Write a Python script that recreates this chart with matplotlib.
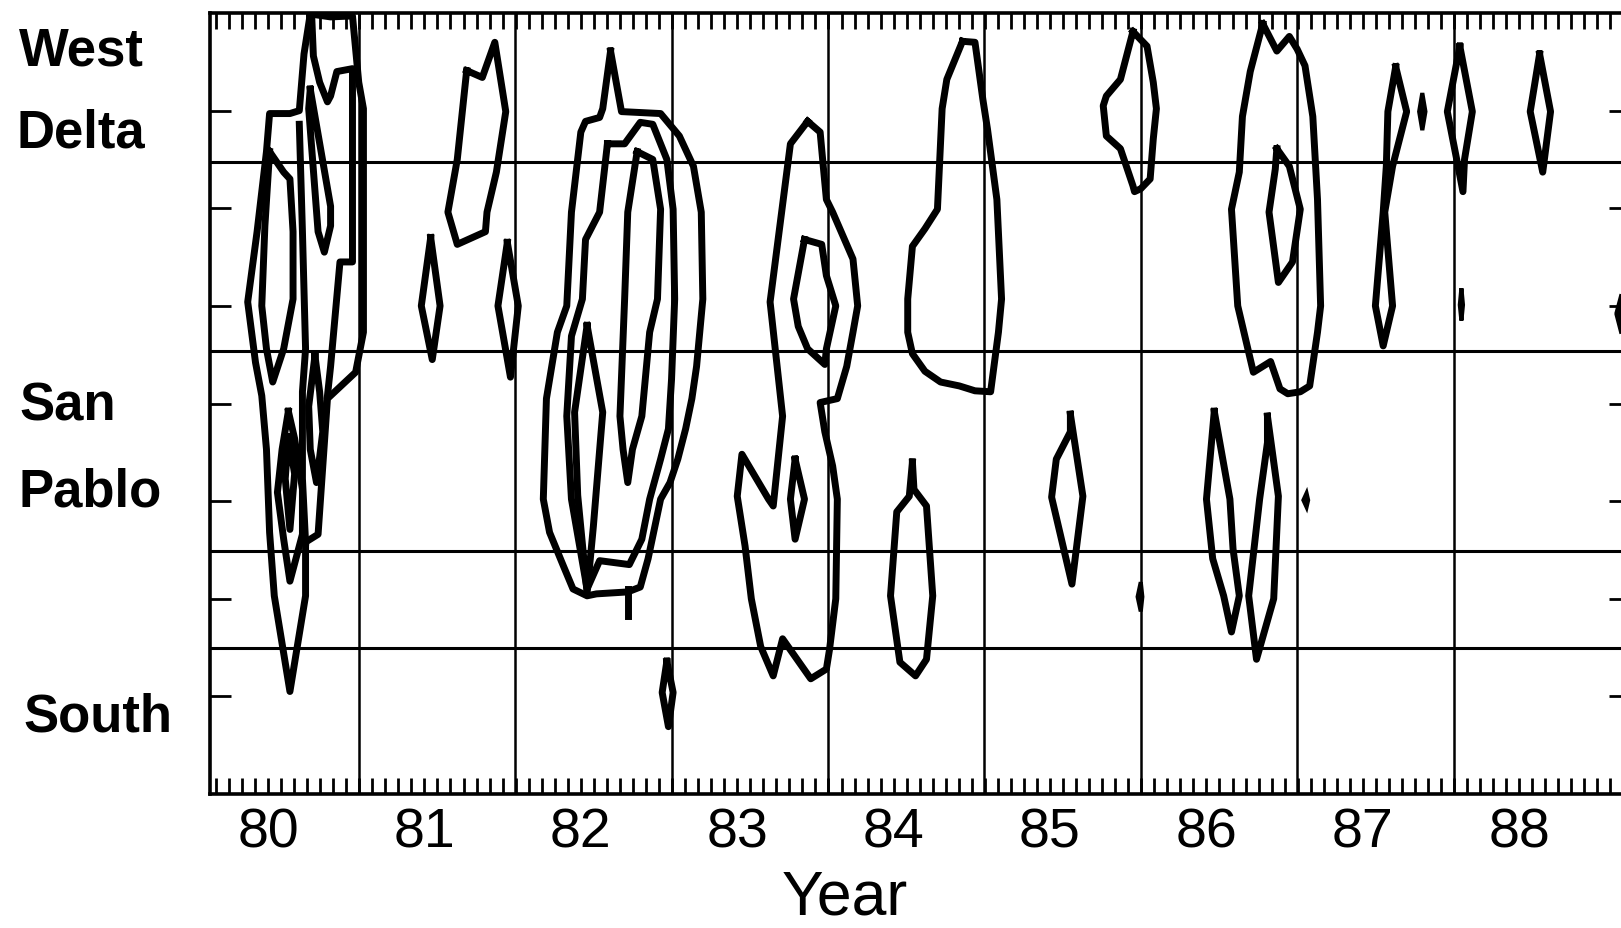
import matplotlib.pyplot as plt
import numpy as np

plt.rcParams['font.family'] = ['Liberation Sans', 'DejaVu Sans']

# axis layout: x in decimal years, y in station position (0 = top)
years = [80, 81, 82, 83, 84, 85, 86, 87, 88]
year_breaks = [80.58, 81.58, 82.58, 83.58, 84.58, 85.58, 86.58, 87.58]
station_ticks = [1, 2, 3, 4, 5, 6, 7]
region_breaks = [1.53, 3.46, 5.51, 6.50]
region_names = ['West', 'Delta', 'San', 'Pablo', 'South']

# contour outlines (year, station)
c80_outer = [(80.27, 0.01), (80.23, 0.42), (80.20, 1.00), (80.14, 1.03), (80.01, 1.03), (79.99, 1.42),
             (79.93, 2.24), (79.87, 2.96), (79.92, 3.58), (79.96, 3.92), (79.99, 4.47), (80.01, 5.32),
             (80.04, 5.97), (80.14, 6.95), (80.24, 5.97), (80.24, 5.42), (80.32, 5.34), (80.38, 3.95),
             (80.56, 3.68), (80.61, 3.27), (80.61, 0.98), (80.58, 0.71), (80.54, 0.03), (80.40, 0.04),
             (80.27, 0.01)]
c80_stem = [(80.20, 1.14), (80.22, 2.24), (80.24, 3.44), (80.22, 3.88), (80.22, 4.77), (80.24, 5.42)]
c80_narrow = [(80.30, 3.51), (80.33, 3.88), (80.35, 4.29), (80.31, 4.81), (80.27, 4.47), (80.26, 4.03),
              (80.30, 3.51)]
c80_left = [(80.01, 1.42), (80.10, 1.63), (80.14, 1.70), (80.16, 2.24), (80.16, 2.93), (80.10, 3.44),
            (80.03, 3.78), (79.99, 3.44), (79.96, 3.00), (79.98, 2.18), (80.01, 1.42)]
c80_vee = [(80.28, 0.06), (80.29, 0.44), (80.33, 0.71), (80.38, 0.91), (80.40, 0.85), (80.44, 0.60),
           (80.54, 0.57), (80.54, 1.57), (80.54, 2.55), (80.46, 2.55), (80.40, 3.62), (80.38, 3.92)]
c80_inner = [(80.27, 0.78), (80.40, 1.98), (80.40, 2.18), (80.36, 2.45), (80.32, 2.24), (80.26, 0.98),
             (80.27, 0.78)]
c80_low = [(80.13, 4.08), (80.17, 4.36), (80.22, 4.88), (80.22, 5.34), (80.14, 5.82), (80.10, 5.39),
           (80.06, 4.91), (80.09, 4.47), (80.13, 4.08)]
c80_core = [(80.13, 4.34), (80.17, 4.72), (80.14, 5.29), (80.11, 4.77), (80.13, 4.34)]

c81_top = [(81.27, 0.59), (81.37, 0.66), (81.45, 0.30), (81.52, 1.01), (81.46, 1.63), (81.40, 2.04),
           (81.39, 2.24), (81.21, 2.37), (81.15, 2.04), (81.21, 1.50), (81.27, 0.59)]
c81_a = [(81.04, 2.30), (81.10, 3.00), (81.05, 3.55), (80.98, 3.00), (81.04, 2.30)]
c81_b = [(81.53, 2.35), (81.60, 3.00), (81.55, 3.73), (81.47, 3.00), (81.53, 2.35)]

c82_outer = [(82.19, 0.39), (82.26, 1.01), (82.51, 1.03), (82.63, 1.26), (82.72, 1.57), (82.77, 2.04),
             (82.78, 2.93), (82.74, 3.62), (82.71, 3.95), (82.67, 4.26), (82.62, 4.57), (82.57, 4.81),
             (82.51, 4.98), (82.43, 5.59), (82.38, 5.88), (82.30, 5.93), (82.10, 5.95), (82.04, 5.97),
             (81.95, 5.90), (81.89, 5.67), (81.80, 5.32), (81.76, 4.98), (81.78, 3.95), (81.85, 3.27),
             (81.91, 3.00), (81.94, 2.04), (82.00, 1.22), (82.03, 1.11), (82.12, 1.07), (82.14, 0.98),
             (82.19, 0.39)]
c82_mid = [(82.17, 1.34), (82.28, 1.34), (82.38, 1.12), (82.46, 1.14), (82.55, 1.50), (82.59, 2.01),
           (82.60, 2.93), (82.58, 3.75), (82.56, 4.26), (82.51, 4.57), (82.44, 4.98), (82.39, 5.39),
           (82.31, 5.65), (82.12, 5.61), (82.04, 5.90), (81.94, 4.98), (81.91, 4.13), (81.94, 3.31),
           (82.01, 2.93), (82.03, 2.32), (82.12, 2.04), (82.17, 1.34)]
c82_inner = [(82.36, 1.42), (82.46, 1.50), (82.51, 2.01), (82.49, 2.93), (82.44, 3.27), (82.39, 4.13),
             (82.33, 4.47), (82.30, 4.81), (82.27, 4.47), (82.25, 4.13), (82.28, 2.93), (82.30, 2.04),
             (82.36, 1.42)]
c82_left = [(82.04, 3.20), (82.14, 4.09), (82.08, 5.26), (82.04, 5.94), (81.98, 4.94), (81.96, 4.09),
            (82.04, 3.20)]
c82_stub = [(82.30, 5.90), (82.30, 6.18)]
c82_south = [(82.55, 6.64), (82.59, 6.96), (82.56, 7.31), (82.52, 6.96), (82.55, 6.64)]

c83_outer = [(83.45, 1.11), (83.53, 1.22), (83.55, 1.57), (83.57, 1.91), (83.61, 2.04), (83.74, 2.52),
             (83.77, 3.00), (83.74, 3.27), (83.70, 3.62), (83.64, 3.95), (83.53, 3.99), (83.56, 4.29),
             (83.61, 4.64), (83.64, 4.98), (83.63, 6.00), (83.59, 6.52), (83.57, 6.72), (83.47, 6.82),
             (83.29, 6.41), (83.23, 6.79), (83.15, 6.49), (83.09, 6.00), (83.05, 5.46), (83.00, 4.95),
             (83.03, 4.52), (83.20, 4.98), (83.23, 5.05), (83.29, 4.13), (83.21, 2.96), (83.34, 1.34),
             (83.45, 1.11)]
c83_inner = [(83.43, 2.32), (83.54, 2.37), (83.57, 2.69), (83.63, 3.00), (83.57, 3.44), (83.56, 3.60),
             (83.45, 3.44), (83.39, 3.21), (83.36, 2.93), (83.43, 2.32)]
c83_low = [(83.37, 4.57), (83.43, 4.98), (83.37, 5.39), (83.34, 4.98), (83.37, 4.57)]

c84_top = [(84.44, 0.29), (84.52, 0.30), (84.57, 0.88), (84.60, 1.19), (84.66, 1.91), (84.69, 2.93),
           (84.67, 3.27), (84.62, 3.88), (84.52, 3.87), (84.42, 3.82), (84.30, 3.78), (84.20, 3.67),
           (84.12, 3.49), (84.09, 3.27), (84.09, 2.93), (84.12, 2.39), (84.20, 2.21), (84.28, 2.01),
           (84.31, 0.98), (84.34, 0.68), (84.44, 0.29)]
c84_low = [(84.12, 4.60), (84.13, 4.88), (84.21, 5.05), (84.25, 5.97), (84.21, 6.62), (84.14, 6.79),
           (84.04, 6.65), (83.98, 5.97), (84.02, 5.11), (84.10, 4.95), (84.12, 4.60)]

c85_top = [(85.53, 0.19), (85.62, 0.34), (85.66, 0.71), (85.68, 0.98), (85.66, 1.29), (85.64, 1.70),
           (85.58, 1.80), (85.54, 1.83), (85.53, 1.77), (85.45, 1.39), (85.36, 1.26), (85.34, 0.95),
           (85.36, 0.85), (85.45, 0.68), (85.53, 0.19)]
c85_mid = [(85.13, 4.11), (85.21, 4.95), (85.14, 5.85), (85.01, 4.96), (85.04, 4.57), (85.13, 4.29),
           (85.13, 4.11)]

c86_top = [(86.36, 0.11), (86.45, 0.39), (86.53, 0.24), (86.58, 0.37), (86.63, 0.54), (86.68, 1.06),
           (86.71, 1.91), (86.73, 3.00), (86.71, 3.27), (86.66, 3.82), (86.60, 3.88), (86.52, 3.90),
           (86.47, 3.85), (86.41, 3.57), (86.30, 3.68), (86.20, 3.00), (86.16, 2.01), (86.21, 1.63),
           (86.23, 1.06), (86.28, 0.60), (86.36, 0.11)]
c86_inner = [(86.45, 1.39), (86.53, 1.57), (86.60, 2.01), (86.55, 2.55), (86.46, 2.76), (86.40, 2.04),
             (86.44, 1.60), (86.45, 1.39)]
c86_a = [(86.05, 4.08), (86.15, 4.98), (86.17, 5.49), (86.21, 5.97), (86.16, 6.34), (86.11, 5.97),
         (86.04, 5.59), (86.00, 4.98), (86.05, 4.08)]
c86_b = [(86.39, 4.13), (86.46, 4.95), (86.43, 6.00), (86.32, 6.62), (86.27, 5.97), (86.34, 4.98),
         (86.39, 4.40), (86.39, 4.13)]

c87_top = [(87.21, 0.55), (87.28, 1.01), (87.19, 1.57), (87.14, 2.04), (87.19, 3.00), (87.13, 3.41),
           (87.08, 3.00), (87.13, 2.04), (87.15, 1.57), (87.16, 1.01), (87.21, 0.55)]
c87_b = [(87.62, 0.34), (87.70, 1.01), (87.65, 1.50), (87.64, 1.83), (87.60, 1.50), (87.54, 1.01),
         (87.62, 0.34)]
c88_top = [(88.13, 0.42), (88.20, 1.01), (88.15, 1.63), (88.07, 1.01), (88.13, 0.42)]
c88_edge = [(88.68, 2.78), (88.71, 3.08), (88.68, 3.39), (88.63, 3.08), (88.68, 2.78)]

# tiny closed contours, drawn solid
dot85 = [(85.58, 5.83), (85.59, 5.98), (85.58, 6.13), (85.56, 5.98), (85.58, 5.83)]
dot86 = [(86.64, 4.92), (86.65, 4.99), (86.64, 5.06), (86.62, 4.99), (86.64, 4.92)]
dot87a = [(87.38, 0.82), (87.40, 1.01), (87.38, 1.20), (87.36, 1.01), (87.38, 0.82)]
dot87b = [(87.63, 2.82), (87.64, 2.99), (87.63, 3.15), (87.62, 2.99), (87.63, 2.82)]

contours = [c80_outer, c80_stem, c80_narrow, c80_left, c80_vee, c80_inner, c80_low, c80_core,
            c81_top, c81_a, c81_b,
            c82_outer, c82_mid, c82_inner, c82_left, c82_stub, c82_south,
            c83_outer, c83_inner, c83_low, c84_top, c84_low, c85_top, c85_mid,
            c86_top, c86_inner, c86_a, c86_b, c87_top, c87_b, c88_top, c88_edge]
dots = [dot85, dot86, dot87a, dot87b]

fig = plt.figure(figsize=(16.21, 9.29), dpi=100)
ax = fig.add_axes([0.12955, 0.14424, 0.87600, 0.84069])

for yb in year_breaks:
    ax.axvline(yb, color='black', lw=1.8, zorder=1)
for rb in region_breaks:
    ax.axhline(rb, color='black', lw=2.2, zorder=1)

for c in contours:
    xs, ys = zip(*c)
    ax.plot(xs, ys, color='black', lw=5.0, zorder=3)
for d in dots:
    xs, ys = zip(*d)
    ax.fill(xs, ys, color='black', lw=3, zorder=3)

ax.set_xlim(79.629, 88.708)
ax.set_ylim(8, 0)

ax.set_xticks(years)
ax.set_xticklabels([str(y) for y in years])
ax.set_xticks(np.arange(79 + 8 / 12, 88.7, 1 / 12), minor=True)
ax.set_yticks(station_ticks)
ax.set_yticklabels([])
ax.tick_params(axis='x', which='both', direction='in', top=True, bottom=True,
               length=11.5, width=2.0, labelsize=40, pad=9)
ax.tick_params(axis='y', which='major', direction='in', left=True, right=True,
               length=15, width=2.0)
for s in ax.spines.values():
    s.set_linewidth(2.6)

fig.text(0.521, 0.033, 'Year', fontsize=45, ha='center', va='center')

# region names beside the axis
name_y = [0.929, 0.8407, 0.5479, 0.4543, 0.2121]
name_x = [0.0117, 0.0099, 0.0117, 0.0117, 0.0142]
for name, nx, ny in zip(region_names, name_x, name_y):
    fig.text(nx, ny, name, fontsize=38, fontweight='bold', ha='left', va='baseline')

plt.savefig('out.png', dpi=100)
